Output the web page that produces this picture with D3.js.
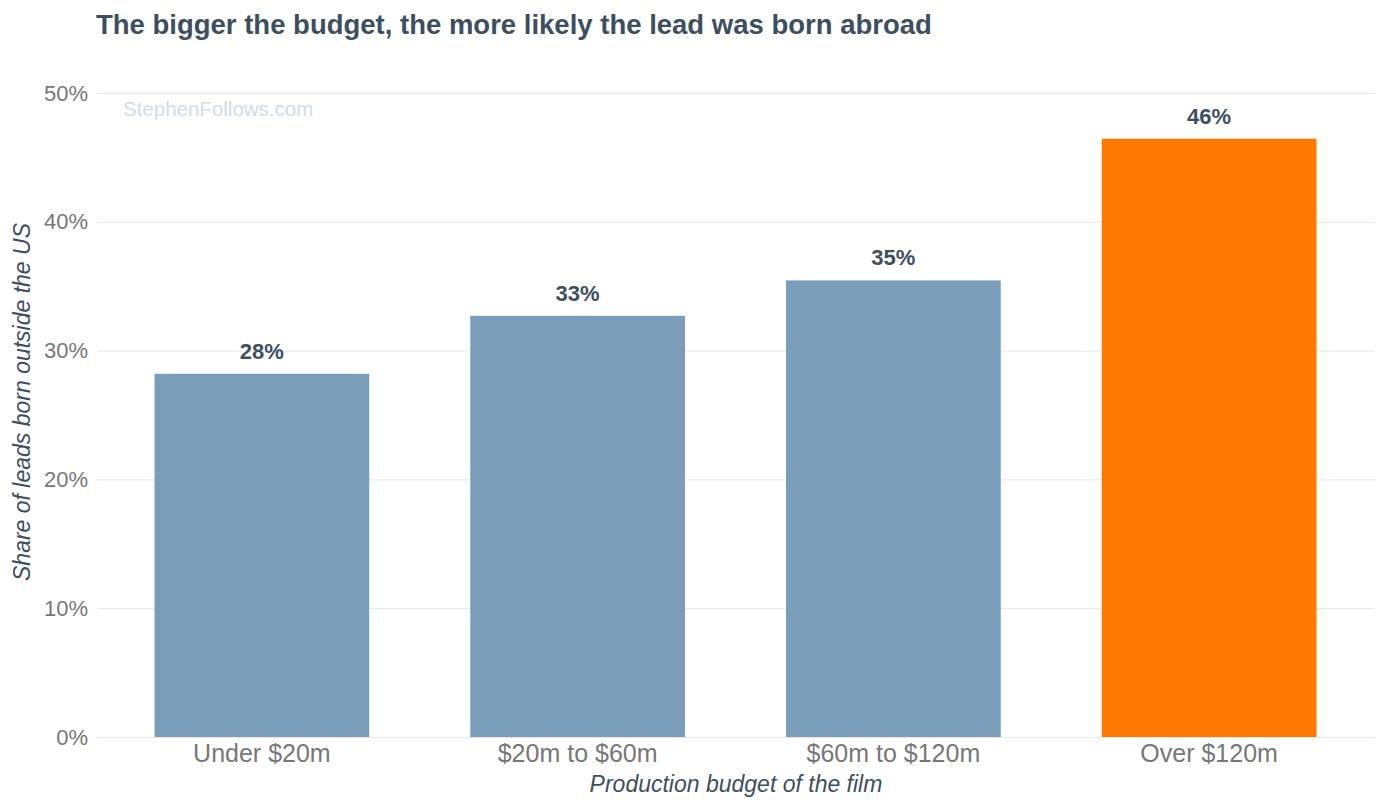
<!DOCTYPE html>
<html>
<head>
<meta charset="utf-8">
<script src="https://cdn.jsdelivr.net/npm/d3@7"></script>
<style>
  body { margin: 0; background: #fff; }
  text { font-family: "Liberation Sans", Arial, sans-serif; }
</style>
</head>
<body>
<div id="chart-area"></div>
<script>
// data
const categories = ["Under $20m", "$20m to $60m", "$60m to $120m", "Over $120m"];
const shares = [28.2, 32.7, 35.45, 46.45];
const valueLabels = ["28%", "33%", "35%", "46%"];
const barColors = ["#7a9db9", "#7a9db9", "#7a9db9", "#ff7900"];
const yTicks = [0, 10, 20, 30, 40, 50];

const chartWidth = 1390;
const chartHeight = 811;
const margin = {top: 93, right: 15, bottom: 74, left: 97};
const width = chartWidth - margin.left - margin.right;
const height = chartHeight - margin.top - margin.bottom;

const svg = d3.select("#chart-area").append("svg")
    .attr("width", chartWidth)
    .attr("height", chartHeight);

svg.append("text")
    .attr("x", 96)
    .attr("y", 34)
    .attr("font-size", "27.5px")
    .attr("font-weight", "bold")
    .attr("fill", "#3d4f5f")
    .text("The bigger the budget, the more likely the lead was born abroad");

const g = svg.append("g")
    .attr("transform", `translate(${margin.left}, ${margin.top})`);

const x = d3.scaleBand()
    .domain(categories)
    .range([7, width - 8])
    .paddingInner(0.32)
    .paddingOuter(0.16);

const y = d3.scaleLinear()
    .domain([0, 50])
    .range([height, 0]);

// gridlines + y labels
const yAxis = g.append("g")
    .call(d3.axisLeft(y).tickValues(yTicks).tickSize(-width).tickFormat(d => d + "%"));
yAxis.select(".domain").remove();
yAxis.selectAll(".tick line").attr("stroke", "#e6e6e6");
yAxis.selectAll(".tick text")
    .attr("x", -9)
    .attr("font-size", "22px")
    .attr("font-family", "Liberation Sans, Arial, sans-serif")
    .attr("fill", "#777");

// watermark
g.append("text")
    .attr("x", 26)
    .attr("y", 23)
    .attr("font-size", "20.5px")
    .attr("fill", "#d0dce6")
    .text("StephenFollows.com");

// bars
g.selectAll("rect").data(shares).enter().append("rect")
    .attr("x", (d, i) => x(categories[i]))
    .attr("y", d => y(d))
    .attr("width", x.bandwidth())
    .attr("height", d => height - y(d))
    .attr("fill", (d, i) => barColors[i]);

// value labels
g.selectAll(".val").data(shares).enter().append("text")
    .attr("class", "val")
    .attr("x", (d, i) => x(categories[i]) + x.bandwidth() / 2)
    .attr("y", d => y(d) - 15)
    .attr("text-anchor", "middle")
    .attr("font-size", "22px")
    .attr("font-weight", "bold")
    .attr("fill", "#3d4f5f")
    .text((d, i) => valueLabels[i]);

// x axis
const xAxis = g.append("g")
    .attr("transform", `translate(0, ${height})`)
    .call(d3.axisBottom(x).tickSize(0));
xAxis.select(".domain").remove();
xAxis.selectAll(".tick text")
    .attr("dy", "0.71em")
    .attr("y", 7)
    .attr("font-size", "25px")
    .attr("font-family", "Liberation Sans, Arial, sans-serif")
    .attr("fill", "#777");

// axis titles
svg.append("text")
    .attr("x", 736)
    .attr("y", 792)
    .attr("text-anchor", "middle")
    .attr("font-size", "23px")
    .attr("font-style", "italic")
    .attr("fill", "#3d4f5f")
    .text("Production budget of the film");

svg.append("text")
    .attr("transform", "translate(30, 402) rotate(-90)")
    .attr("text-anchor", "middle")
    .attr("font-size", "23px")
    .attr("font-style", "italic")
    .attr("fill", "#3d4f5f")
    .text("Share of leads born outside the US");
</script>
</body>
</html>
